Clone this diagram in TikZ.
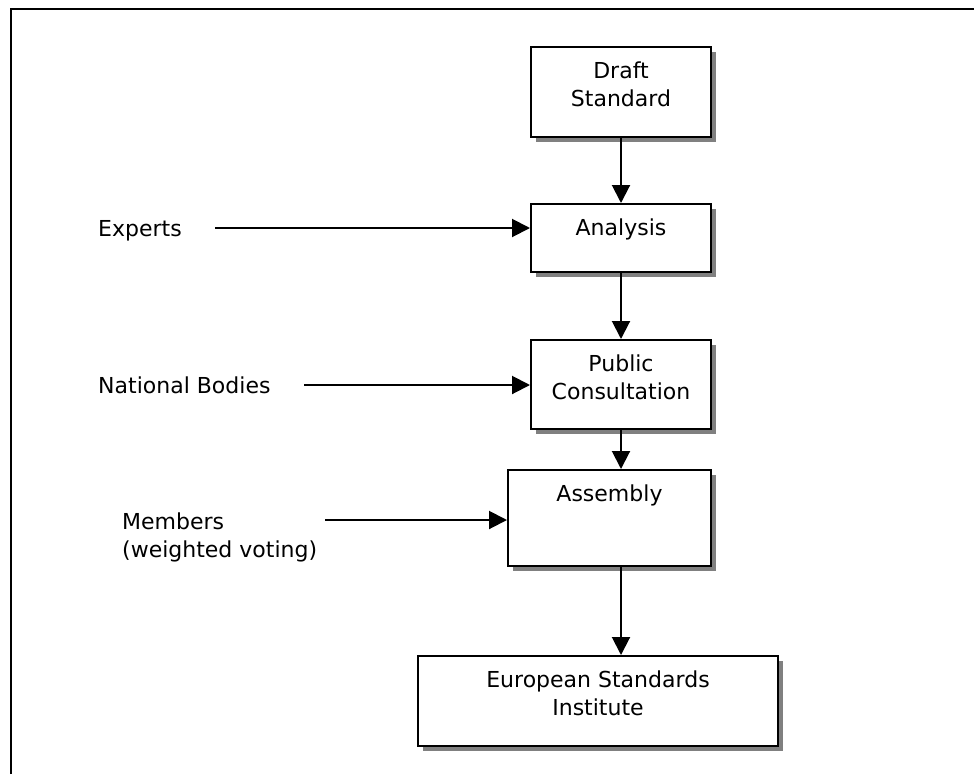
\documentclass[tikz,border=0pt]{standalone}
\usepackage{fontspec}
\setmainfont{DejaVu Sans}
\usetikzlibrary{arrows.meta,shadows}
\begin{document}
\begin{tikzpicture}[x=1pt,y=-1pt,
  font=\fontsize{22}{28}\selectfont,
  stage/.style={draw=black,line width=2pt,fill=white,inner sep=0pt,
    drop shadow={shadow xshift=5pt,shadow yshift=-5pt,fill=black!50,opacity=1}},
  caption/.style={align=center,inner sep=0pt,anchor=north},
  side/.style={align=left,inner sep=0pt},
  flow/.style={line width=2pt,-{Triangle[length=18pt,width=18pt]}}]
\useasboundingbox (0,0) rectangle (974,774);
% open frame
\draw[line width=2pt] (11,774) -- (11,9) -- (974,9);

% process stages
\node[stage,minimum width=180pt,minimum height=90pt] (draft) at (621,92) {};
\node[stage,minimum width=180pt,minimum height=68pt] (analysis) at (621,238) {};
\node[stage,minimum width=180pt,minimum height=89pt] (public) at (621,384.5) {};
\node[stage,minimum width=203pt,minimum height=96pt] (assembly) at (609.5,518) {};
\node[stage,minimum width=360pt,minimum height=90pt] (esi) at (598,701) {};

\node[caption] (draftT) at ([yshift=-16pt]draft.north) {Draft\\Standard};
\node[caption] (analysisT) at ([yshift=-16pt]analysis.north) {Analysis};
\node[caption] (publicT) at ([yshift=-16pt]public.north) {Public\\Consultation};
\node[caption] (assemblyT) at ([yshift=-16pt]assembly.north) {Assembly};
\node[caption] (esiT) at ([yshift=-16pt]esi.north) {European Standards\\Institute};

% participants
\node[side,anchor=base west] (experts) at (98,236) {Experts};
\node[side,anchor=base west] (national) at (98,393) {National Bodies};
\node[side,anchor=north west] (members) at (122,512.3) {Members\\(weighted voting)};

\coordinate (expStart) at (215,228);
\coordinate (natStart) at (304,385);
\coordinate (memStart) at (325,520);

% main flow
\draw[flow] (draft.south) -- (analysis.north);
\draw[flow] (analysis.south) -- (public.north);
\draw[flow] (public.south) -- (public.south |- assembly.north);
\draw[flow] (assembly.south -| public.south) -- (esi.north -| public.south);

% inputs
\draw[flow] (expStart) -- (expStart -| analysis.west);
\draw[flow] (natStart) -- (natStart -| public.west);
\draw[flow] (memStart) -- (memStart -| assembly.west);
\end{tikzpicture}
\end{document}
